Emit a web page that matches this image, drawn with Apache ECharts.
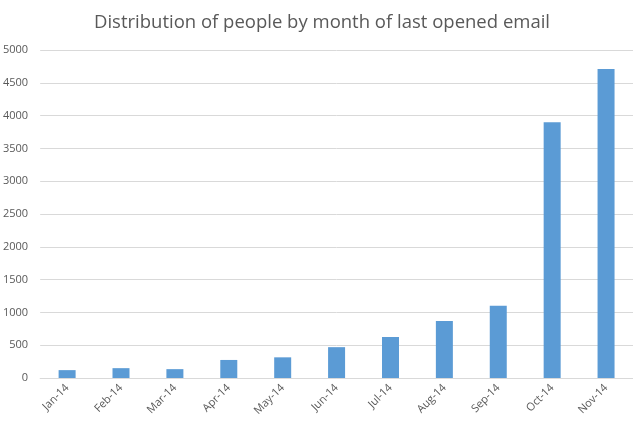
<!DOCTYPE html>
<html>
<head>
<meta charset="utf-8">
<script src="https://cdn.jsdelivr.net/npm/echarts@6/dist/echarts.min.js"></script>
<style>
  html, body { margin: 0; padding: 0; background: #fff; }
  #chart { width: 633px; height: 426px; }
</style>
</head>
<body>
<div id="chart"></div>
<script>
// months of last opened email
var months = ['Jan-14', 'Feb-14', 'Mar-14', 'Apr-14', 'May-14', 'Jun-14',
              'Jul-14', 'Aug-14', 'Sep-14', 'Oct-14', 'Nov-14'];
// number of people
var people = [120, 150, 135, 275, 315, 470, 625, 870, 1100, 3900, 4710];

var chart = echarts.init(document.getElementById('chart'));

chart.setOption({
    backgroundColor: '#FFFFFF',
    animation: false,
    title: {
        text: 'Distribution of people by month of last opened email',
        left: 89,
        top: 8,
        textStyle: {
            fontFamily: 'Open Sans',
            fontWeight: 'normal',
            fontSize: 18.5,
            color: '#595959'
        }
    },
    grid: { left: 40, right: 0, top: 50, bottom: 48 },
    xAxis: {
        type: 'category',
        data: months,
        axisLine: { lineStyle: { color: '#d9d9d9' } },
        axisTick: { show: false },
        axisLabel: {
            rotate: 45,
            interval: 0,
            fontFamily: 'Open Sans',
            fontSize: 11,
            color: '#595959',
            margin: 8
        }
    },
    yAxis: {
        type: 'value',
        min: 0,
        max: 5000,
        interval: 500,
        axisLine: { show: false },
        axisTick: { show: false },
        splitLine: { lineStyle: { color: '#d9d9d9' } },
        axisLabel: {
            fontFamily: 'Open Sans',
            fontSize: 11,
            color: '#595959',
            margin: 12,
            formatter: function (v) { return String(v); }
        }
    },
    series: [{
        type: 'bar',
        data: people,
        barWidth: 17,
        itemStyle: { color: '#5b9bd5' }
    }]
});
</script>
</body>
</html>
